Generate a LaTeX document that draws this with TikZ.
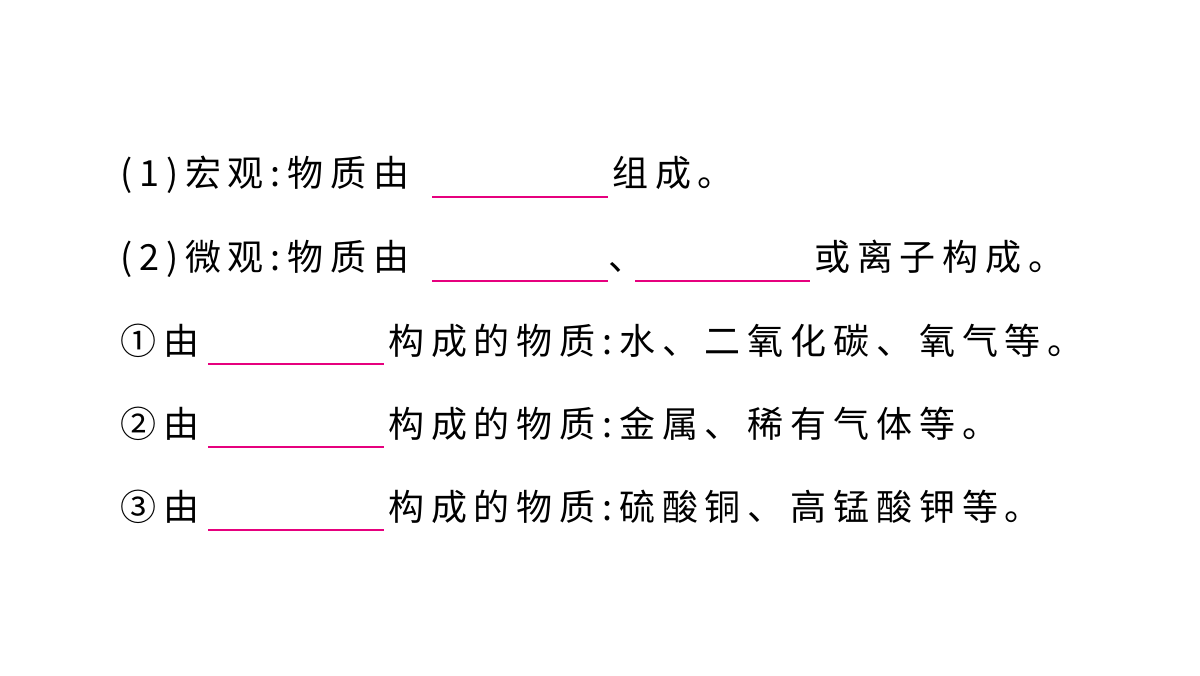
\documentclass[tikz,border=0pt]{standalone}
\usepackage{fontspec}
\setmainfont[LetterSpace=19]{Noto Sans CJK SC}
\begin{document}
\begin{tikzpicture}[x=0.75pt,y=-0.75pt,
  t/.style={anchor=base west,inner sep=0pt,font=\fontsize{27}{30}\selectfont},
  blank/.style={draw={rgb,255:red,230;green,0;blue,126},line width=1.2pt}]
\useasboundingbox[fill=white] (0,0) rectangle (1200,675);
\node[t] (a1) at (120,186) {(1)宏观:物质由};
\coordinate (b1s) at (432,197); \coordinate (b1e) at (608,197);
\draw[blank] (b1s) -- (b1e);
\node[t] (a2) at (612,186) {组成。};
\node[t] (c1) at (120,270) {(2)微观:物质由};
\coordinate (b2s) at (432,281); \coordinate (b2e) at (608,281);
\draw[blank] (b2s) -- (b2e);
\node[t] (c2) at (608,270) {、};
\coordinate (b3s) at (635,281); \coordinate (b3e) at (810,281);
\draw[blank] (b3s) -- (b3e);
\node[t] (c3) at (814,270) {或离子构成。};
\node[t] (d1) at (120,354) {①由};
\coordinate (b4s) at (208,364); \coordinate (b4e) at (384,364);
\draw[blank] (b4s) -- (b4e);
\node[t] (d2) at (388,354) {构成的物质:水、二氧化碳、氧气等。};
\node[t] (e1) at (120,437) {②由};
\coordinate (b5s) at (208,447); \coordinate (b5e) at (384,447);
\draw[blank] (b5s) -- (b5e);
\node[t] (e2) at (388,437) {构成的物质:金属、稀有气体等。};
\node[t] (f1) at (120,520) {③由};
\coordinate (b6s) at (208,530); \coordinate (b6e) at (384,530);
\draw[blank] (b6s) -- (b6e);
\node[t] (f2) at (388,520) {构成的物质:硫酸铜、高锰酸钾等。};
\end{tikzpicture}
\end{document}
